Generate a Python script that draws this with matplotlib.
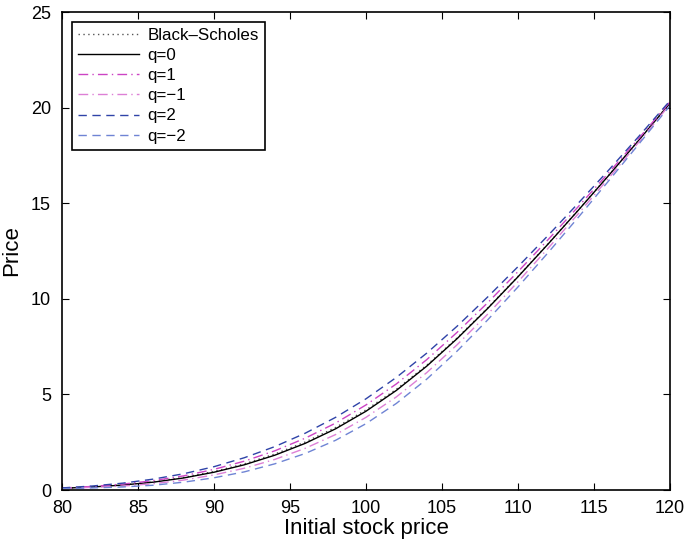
import numpy as np
import matplotlib.pyplot as plt

plt.rcParams['font.family'] = ['Liberation Sans', 'DejaVu Sans']

# initial stock price grid
s0 = [80, 82, 84, 86, 88, 90, 92, 94, 96, 98, 100,
      102, 104, 106, 108, 110, 112, 114, 116, 118, 120]

# prices
bs = [0.09, 0.16, 0.27, 0.43, 0.66, 0.97, 1.37, 1.88, 2.51, 3.27, 4.19,
      5.27, 6.53, 7.96, 9.52, 11.17, 12.90, 14.67, 16.49, 18.35, 20.24]
q0 = [0.09, 0.16, 0.26, 0.41, 0.63, 0.93, 1.32, 1.82, 2.44, 3.20, 4.12,
      5.21, 6.48, 7.92, 9.49, 11.15, 12.88, 14.66, 16.48, 18.34, 20.23]
q1 = [0.10, 0.19, 0.31, 0.49, 0.74, 1.08, 1.51, 2.05, 2.71, 3.50, 4.45,
      5.55, 6.82, 8.25, 9.79, 11.42, 13.11, 14.85, 16.62, 18.44, 20.30]
qm1 = [0.08, 0.14, 0.21, 0.33, 0.52, 0.79, 1.14, 1.60, 2.18, 2.90, 3.80,
       4.87, 6.14, 7.60, 9.19, 10.89, 12.66, 14.48, 16.34, 18.24, 20.17]
q2 = [0.11, 0.21, 0.36, 0.57, 0.85, 1.22, 1.69, 2.27, 2.97, 3.80, 4.77,
      5.89, 7.16, 8.57, 10.09, 11.68, 13.33, 15.03, 16.76, 18.54, 20.36]
qm2 = [0.07, 0.11, 0.16, 0.25, 0.41, 0.64, 0.95, 1.37, 1.91, 2.60, 3.47,
       4.53, 5.80, 7.27, 8.89, 10.62, 12.43, 14.29, 16.20, 18.14, 20.10]

fig = plt.figure(figsize=(6.85, 5.48), dpi=100)
ax = fig.add_axes([0.0905, 0.1058, 0.8875, 0.8722])

ax.plot(s0, bs, color='#555555', linestyle=(0, (1, 2.5)), lw=1.0, label='Black\u2013Scholes')
ax.plot(s0, q0, color='black', linestyle='-', lw=1.0, label='q=0')
ax.plot(s0, q1, color='#cc44c4', linestyle=(0, (7, 3, 1, 3)), lw=1.0, label='q=1')
ax.plot(s0, qm1, color='#dd80d6', linestyle=(0, (7, 3, 1, 3)), lw=1.0, label='q=\u22121')
ax.plot(s0, q2, color='#2f43a8', linestyle=(0, (6, 4)), lw=1.0, label='q=2')
ax.plot(s0, qm2, color='#6f84d4', linestyle=(0, (6, 4)), lw=1.0, label='q=\u22122')

ax.set_xlim(80, 120)
ax.set_ylim(0, 25)
ax.set_xticks(np.arange(80, 121, 5))
ax.set_yticks(np.arange(0, 26, 5))
ax.tick_params(direction='in', top=True, right=True, labelsize=13, length=5, width=0.8)
ax.tick_params(axis='x', pad=7)
ax.tick_params(axis='y', pad=8)
for sp in ax.spines.values():
    sp.set_linewidth(1.2)

ax.set_xlabel('Initial stock price', fontsize=16, labelpad=1)
ax.set_ylabel('Price', fontsize=16, labelpad=6)

leg = ax.legend(loc='upper left', fontsize=12.2, frameon=True, fancybox=False,
                edgecolor='black', framealpha=1, handlelength=3.6,
                borderaxespad=0.6, labelspacing=0.3, handletextpad=0.5,
                borderpad=0.35)
leg.get_frame().set_linewidth(1.2)

plt.savefig('out.png', dpi=100)
